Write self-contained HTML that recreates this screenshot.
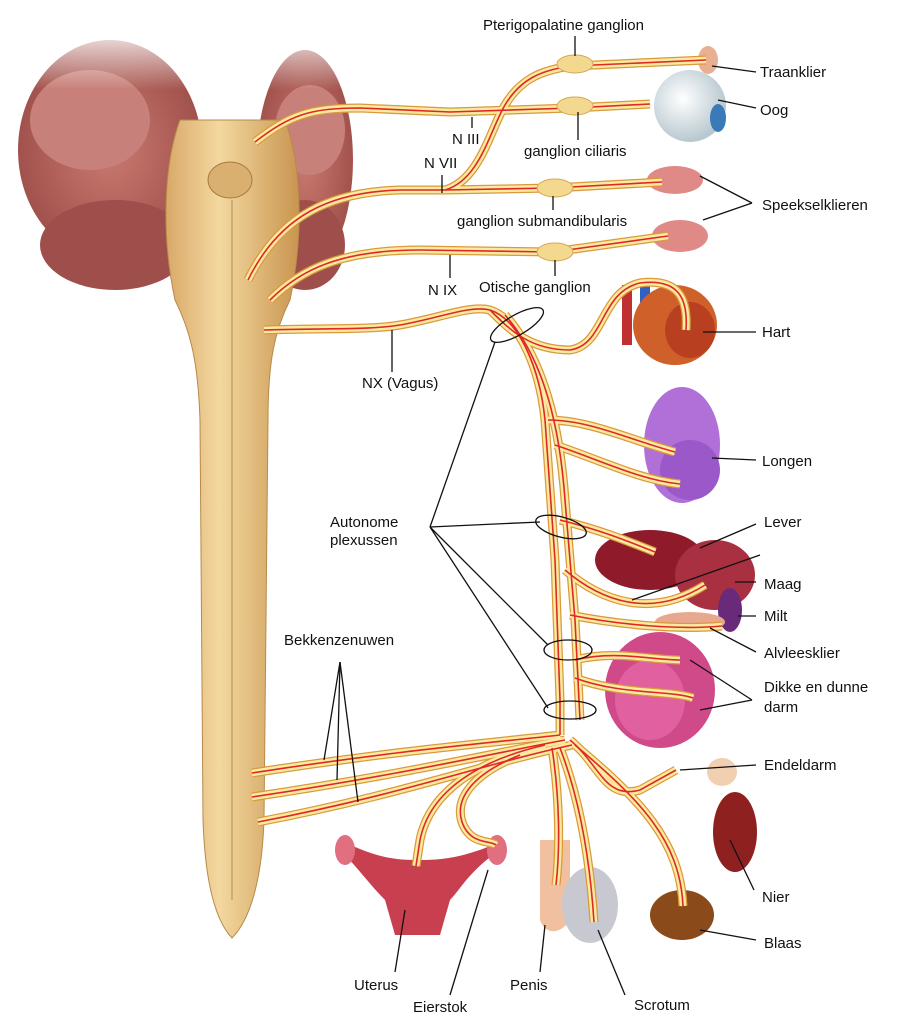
<!DOCTYPE html>
<html><head><meta charset="utf-8"><style>
html,body{margin:0;padding:0;background:#fff;}
svg{display:block;}
text{font-family:"Liberation Sans",sans-serif;font-size:15px;fill:#111;}
</style></head><body>
<svg width="910" height="1024" viewBox="0 0 910 1024" xmlns="http://www.w3.org/2000/svg">
<defs>
<linearGradient id="fade" x1="0" y1="0" x2="0" y2="1">
<stop offset="0" stop-color="#fff" stop-opacity="1"/>
<stop offset="0.15" stop-color="#fff" stop-opacity="0.9"/>
<stop offset="0.45" stop-color="#fff" stop-opacity="0"/>
</linearGradient>
<radialGradient id="brainG" cx="0.5" cy="0.5" r="0.6">
<stop offset="0" stop-color="#c97a70"/><stop offset="1" stop-color="#9a4a45"/>
</radialGradient>
<linearGradient id="cordG" x1="0" y1="0" x2="1" y2="0">
<stop offset="0" stop-color="#d9a868"/><stop offset="0.4" stop-color="#f3d8a0"/><stop offset="1" stop-color="#c9954f"/>
</linearGradient>
<radialGradient id="eyeG" cx="0.4" cy="0.4" r="0.6"><stop offset="0" stop-color="#fff"/><stop offset="1" stop-color="#b8c8d0"/></radialGradient>
<g id="nerves" fill="none">
<path d="M255,142 C290,115 310,108 360,108 L450,112 L572,108 L650,104"/>
<path d="M248,280 C280,215 330,192 400,190 L445,190 L553,188 L662,182"/>
<path d="M445,190 C480,180 490,130 505,105 C520,80 540,70 572,66 L706,60"/>
<path d="M270,300 C300,270 340,250 420,250 L553,252 L668,236"/>
<path d="M264,330 C330,328 370,330 400,325 C440,318 470,305 490,310 C520,320 540,370 545,420 L555,560 L560,700 L560,735"/>
<path d="M490,310 C510,330 530,350 570,350 C605,345 600,292 640,283 C680,278 688,300 686,330"/>
<path d="M505,315 C545,360 560,430 565,500 L575,620 L580,720"/>
<path d="M548,420 C590,420 630,440 675,452"/>
<path d="M555,445 C600,460 640,480 680,484"/>
<path d="M560,520 C600,530 625,540 655,552"/>
<path d="M565,570 C600,600 650,620 705,585"/>
<path d="M570,615 C620,625 680,630 722,626"/>
<path d="M575,660 C615,650 650,660 680,660"/>
<path d="M575,678 C620,695 670,690 693,698"/>
<path d="M252,773 C400,750 500,742 560,735"/>
<path d="M252,797 C400,775 500,752 565,740"/>
<path d="M258,822 C400,795 480,765 572,745"/>
<path d="M545,745 C480,760 430,790 420,840 L416,866"/>
<path d="M520,755 C470,775 455,800 462,822 C470,845 490,840 496,845"/>
<path d="M552,748 C560,800 560,850 556,885"/>
<path d="M560,748 C580,800 590,860 594,922"/>
<path d="M575,745 C640,800 680,840 683,906"/>
<path d="M570,740 C600,765 605,800 640,790 L676,770"/>
</g>
</defs>

<!-- brain -->
<g>
<ellipse cx="110" cy="150" rx="92" ry="110" fill="url(#brainG)"/>
<ellipse cx="305" cy="160" rx="48" ry="110" fill="url(#brainG)"/>
<ellipse cx="115" cy="245" rx="75" ry="45" fill="#9e4f4b"/>
<ellipse cx="305" cy="245" rx="40" ry="45" fill="#9e4f4b"/>
<ellipse cx="90" cy="120" rx="60" ry="50" fill="#c8807a"/>
<ellipse cx="310" cy="130" rx="35" ry="45" fill="#c8807a"/>
<rect x="0" y="0" width="360" height="200" fill="url(#fade)"/>
</g>
<!-- brainstem & cord -->
<path d="M180,120 L285,120 C300,160 305,230 290,300 C275,330 268,360 268,420 L264,820 C262,880 250,920 232,938 C215,920 205,880 203,820 L200,420 C198,360 190,330 175,300 C160,230 165,160 180,120 Z" fill="url(#cordG)" stroke="#b88a4a" stroke-width="1"/>
<ellipse cx="230" cy="180" rx="22" ry="18" fill="#d9b070" stroke="#a87a3a"/>
<line x1="232" y1="200" x2="232" y2="900" stroke="#b88a4a" stroke-width="1"/>

<!-- organs -->
<ellipse cx="708" cy="60" rx="10" ry="14" fill="#e8b090"/>
<circle cx="690" cy="106" r="36" fill="url(#eyeG)"/>
<ellipse cx="718" cy="118" rx="8" ry="14" fill="#3a7ab8"/>
<ellipse cx="675" cy="180" rx="28" ry="14" fill="#e08a88"/>
<ellipse cx="680" cy="236" rx="28" ry="16" fill="#e08a88"/>
<rect x="622" y="285" width="10" height="60" fill="#c03030"/>
<rect x="640" y="282" width="10" height="40" fill="#3060c0"/>
<ellipse cx="675" cy="325" rx="42" ry="40" fill="#d0602a"/>
<ellipse cx="690" cy="330" rx="25" ry="28" fill="#b84020"/>
<ellipse cx="682" cy="445" rx="38" ry="58" fill="#b070d8"/>
<ellipse cx="690" cy="470" rx="30" ry="30" fill="#9a58c8"/>
<ellipse cx="650" cy="560" rx="55" ry="30" fill="#8e1a2a"/>
<ellipse cx="715" cy="575" rx="40" ry="35" fill="#a83040"/>
<ellipse cx="730" cy="610" rx="12" ry="22" fill="#6a2a7a"/>
<ellipse cx="690" cy="622" rx="35" ry="10" fill="#e8a890"/>
<ellipse cx="660" cy="690" rx="55" ry="58" fill="#d04a8a"/>
<ellipse cx="650" cy="700" rx="35" ry="40" fill="#e060a0"/>
<ellipse cx="722" cy="772" rx="15" ry="14" fill="#f0d0b0"/>
<ellipse cx="735" cy="832" rx="22" ry="40" fill="#8e2020"/>
<ellipse cx="682" cy="915" rx="32" ry="25" fill="#8a4a1a"/>
<path d="M340,840 C380,860 400,860 420,860 C450,860 470,855 505,840 L500,850 C470,870 460,890 450,900 L440,935 L395,935 L385,900 C370,885 360,870 340,850 Z" fill="#c84050"/>
<ellipse cx="345" cy="850" rx="10" ry="15" fill="#e07080"/>
<ellipse cx="497" cy="850" rx="10" ry="15" fill="#e07080"/>
<path d="M540,840 L570,840 L570,920 C560,935 545,935 540,920 Z" fill="#f0c0a0"/>
<ellipse cx="590" cy="905" rx="28" ry="38" fill="#c8c8d0"/>

<!-- nerves -->
<use href="#nerves" stroke="#d89a3a" stroke-width="9"/>
<use href="#nerves" stroke="#fbeaa0" stroke-width="6.5"/>
<use href="#nerves" stroke="#e02828" stroke-width="1.6"/>
<g fill="#f3d890" stroke="#d8a850">
<ellipse cx="575" cy="64" rx="18" ry="9"/>
<ellipse cx="575" cy="106" rx="18" ry="9"/>
<ellipse cx="555" cy="188" rx="18" ry="9"/>
<ellipse cx="555" cy="252" rx="18" ry="9"/>
</g>

<!-- pointer lines -->
<g stroke="#111" stroke-width="1.3" fill="none">
<line x1="575" y1="36" x2="575" y2="56"/>
<line x1="712" y1="66" x2="756" y2="72"/>
<line x1="718" y1="100" x2="756" y2="108"/>
<line x1="472" y1="117" x2="472" y2="128"/>
<line x1="578" y1="112" x2="578" y2="140"/>
<line x1="442" y1="175" x2="442" y2="193"/>
<line x1="553" y1="196" x2="553" y2="210"/>
<line x1="700" y1="176" x2="752" y2="203"/>
<line x1="703" y1="220" x2="752" y2="203"/>
<line x1="450" y1="255" x2="450" y2="278"/>
<line x1="555" y1="260" x2="555" y2="276"/>
<line x1="703" y1="332" x2="756" y2="332"/>
<line x1="392" y1="330" x2="392" y2="372"/>
<line x1="712" y1="458" x2="756" y2="460"/>
<line x1="430" y1="527" x2="495" y2="342"/>
<line x1="430" y1="527" x2="540" y2="522"/>
<line x1="430" y1="527" x2="548" y2="645"/>
<line x1="430" y1="527" x2="548" y2="708"/>
<ellipse cx="517" cy="325" rx="30" ry="10" transform="rotate(-30 517 325)"/>
<ellipse cx="561" cy="527" rx="26" ry="10" transform="rotate(15 561 527)"/>
<ellipse cx="568" cy="650" rx="24" ry="10"/>
<ellipse cx="570" cy="710" rx="26" ry="9"/>
<line x1="700" y1="548" x2="756" y2="524"/>
<line x1="632" y1="600" x2="760" y2="555"/>
<line x1="735" y1="582" x2="756" y2="582"/>
<line x1="738" y1="616" x2="756" y2="616"/>
<line x1="710" y1="628" x2="756" y2="652"/>
<line x1="690" y1="660" x2="752" y2="700"/>
<line x1="700" y1="710" x2="752" y2="700"/>
<line x1="680" y1="770" x2="756" y2="765"/>
<line x1="730" y1="840" x2="754" y2="890"/>
<line x1="700" y1="930" x2="756" y2="940"/>
<line x1="340" y1="662" x2="324" y2="760"/>
<line x1="340" y1="662" x2="337" y2="780"/>
<line x1="340" y1="662" x2="358" y2="802"/>
<line x1="405" y1="910" x2="395" y2="972"/>
<line x1="488" y1="870" x2="450" y2="995"/>
<line x1="545" y1="925" x2="540" y2="972"/>
<line x1="598" y1="930" x2="625" y2="995"/>
</g>

<!-- labels -->
<text x="483" y="30">Pterigopalatine ganglion</text>
<text x="760" y="77">Traanklier</text>
<text x="760" y="115">Oog</text>
<text x="452" y="144">N III</text>
<text x="524" y="156">ganglion ciliaris</text>
<text x="424" y="168">N VII</text>
<text x="457" y="226">ganglion submandibularis</text>
<text x="762" y="210">Speekselklieren</text>
<text x="428" y="295">N IX</text>
<text x="479" y="292">Otische ganglion</text>
<text x="762" y="337">Hart</text>
<text x="362" y="388">NX (Vagus)</text>
<text x="762" y="466">Longen</text>
<text x="330" y="527">Autonome</text>
<text x="330" y="545">plexussen</text>
<text x="764" y="527">Lever</text>
<text x="764" y="589">Maag</text>
<text x="764" y="621">Milt</text>
<text x="764" y="658">Alvleesklier</text>
<text x="284" y="645">Bekkenzenuwen</text>
<text x="764" y="692">Dikke en dunne</text>
<text x="764" y="712">darm</text>
<text x="764" y="770">Endeldarm</text>
<text x="762" y="902">Nier</text>
<text x="764" y="948">Blaas</text>
<text x="354" y="990">Uterus</text>
<text x="510" y="990">Penis</text>
<text x="413" y="1012">Eierstok</text>
<text x="634" y="1010">Scrotum</text>
</svg>
</body></html>
